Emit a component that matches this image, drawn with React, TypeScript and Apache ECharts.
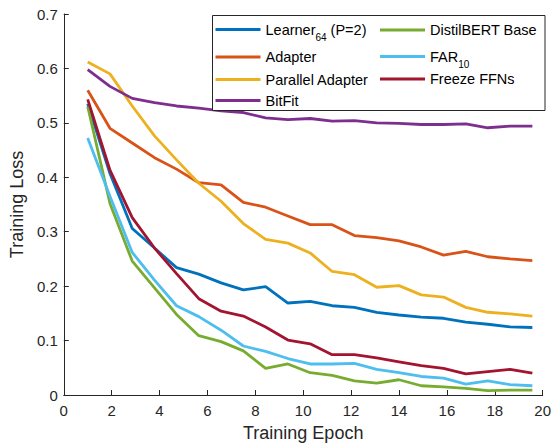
import React, { useEffect, useRef } from "react";
import * as echarts from "echarts";

const epochs = [1, 1.93, 2.86, 3.79, 4.71, 5.64, 6.57, 7.5, 8.43, 9.36, 10.29, 11.21, 12.14, 13.07, 14, 14.93, 15.86, 16.79, 17.71, 18.64, 19.57];

const learner = [0.535, 0.407, 0.306, 0.270, 0.234, 0.222, 0.206, 0.193, 0.199, 0.169, 0.172, 0.164, 0.161, 0.152, 0.147, 0.143, 0.141, 0.134, 0.130, 0.125, 0.124];
const adapter = [0.560, 0.490, 0.463, 0.436, 0.415, 0.390, 0.386, 0.354, 0.345, 0.329, 0.313, 0.313, 0.293, 0.289, 0.283, 0.272, 0.257, 0.264, 0.254, 0.250, 0.247];
const parallelAdapter = [0.612, 0.590, 0.531, 0.476, 0.432, 0.389, 0.356, 0.315, 0.286, 0.279, 0.261, 0.227, 0.221, 0.198, 0.201, 0.184, 0.180, 0.161, 0.152, 0.149, 0.145];
const bitfit = [0.598, 0.567, 0.545, 0.537, 0.531, 0.527, 0.522, 0.519, 0.509, 0.506, 0.508, 0.503, 0.504, 0.500, 0.499, 0.497, 0.497, 0.498, 0.491, 0.494, 0.494];
const distilbert = [0.530, 0.352, 0.246, 0.197, 0.148, 0.109, 0.098, 0.081, 0.049, 0.057, 0.041, 0.036, 0.026, 0.022, 0.028, 0.017, 0.015, 0.012, 0.008, 0.009, 0.009];
const far10 = [0.472, 0.365, 0.262, 0.211, 0.164, 0.144, 0.119, 0.090, 0.080, 0.067, 0.057, 0.057, 0.058, 0.047, 0.041, 0.034, 0.031, 0.020, 0.026, 0.019, 0.017];
const freezeFFNs = [0.543, 0.413, 0.326, 0.270, 0.223, 0.177, 0.154, 0.145, 0.125, 0.101, 0.094, 0.074, 0.074, 0.068, 0.061, 0.054, 0.049, 0.039, 0.043, 0.047, 0.040];

const seriesNames = ["Learner64 (P=2)", "Adapter", "Parallel Adapter", "BitFit", "DistilBERT Base", "FAR10", "Freeze FFNs"];
const seriesValues = [learner, adapter, parallelAdapter, bitfit, distilbert, far10, freezeFFNs];
const seriesColors = ["#0072BD", "#D95319", "#EDB120", "#7E2F8E", "#77AC30", "#4DBEEE", "#A2142F"];

const xTicks = { min: 0, max: 20, interval: 2 };
const yTicks = { min: 0, max: 0.7, interval: 0.1 };

// legend layout (positions only)
const legendLayout = [
  { left: 215.5, top: 20.5 },
  { left: 215.5, top: 48 },
  { left: 215.5, top: 70.5 },
  { left: 215.5, top: 91.5 },
  { left: 380, top: 21 },
  { left: 380, top: 47.5 },
  { left: 380, top: 70 },
];

const FONT = "'Liberation Sans', Arial, Helvetica, sans-serif";
const AXIS_COLOR = "#262626";

function legendFormatter(name: string) {
  if (name === "Learner64 (P=2)") return "Learner{sub|64} (P=2)";
  if (name === "FAR10") return "FAR{sub|10}";
  return name;
}

export default function App() {
  const ref = useRef<HTMLDivElement>(null);
  useEffect(() => {
    if (!ref.current) return;
    const chart = echarts.init(ref.current, null, { renderer: "svg" });
    const option: any = {
      animation: false,
      backgroundColor: "#ffffff",
      grid: { left: 58, right: 8.3, top: 14, bottom: 48.3, containLabel: false },
      xAxis: {
        type: "value",
        min: xTicks.min,
        max: xTicks.max,
        interval: xTicks.interval,
        name: "Training Epoch",
        nameLocation: "middle",
        nameGap: 29,
        nameTextStyle: { fontFamily: FONT, fontSize: 18, color: AXIS_COLOR },
        axisLine: { show: true, onZero: false, lineStyle: { color: AXIS_COLOR, width: 1 } },
        axisTick: { show: true, inside: true, length: 5, lineStyle: { color: AXIS_COLOR, width: 1 } },
        axisLabel: { fontFamily: FONT, fontSize: 15, color: AXIS_COLOR, margin: 8 },
        splitLine: { show: false },
      },
      yAxis: {
        type: "value",
        min: yTicks.min,
        max: yTicks.max,
        interval: yTicks.interval,
        name: "Training Loss",
        nameLocation: "middle",
        nameGap: 31,
        nameTextStyle: { fontFamily: FONT, fontSize: 18, color: AXIS_COLOR },
        axisLine: { show: true, onZero: false, lineStyle: { color: AXIS_COLOR, width: 1 } },
        axisTick: { show: true, inside: true, length: 5, lineStyle: { color: AXIS_COLOR, width: 1 } },
        axisLabel: { fontFamily: FONT, fontSize: 15, color: AXIS_COLOR, margin: 6 },
        splitLine: { show: false },
      },
      legend: seriesNames.map((name, i) => ({
        data: [name],
        orient: "vertical",
        left: legendLayout[i].left,
        top: legendLayout[i].top,
        padding: 0,
        itemGap: 0,
        icon: "rect",
        itemWidth: 45,
        itemHeight: 3,
        selectedMode: false,
        z: 5,
        formatter: legendFormatter,
        textStyle: {
          fontFamily: FONT,
          fontSize: 14.5,
          color: "#000000",
          lineHeight: 18,
          rich: {
            sub: { fontFamily: FONT, fontSize: 10, color: "#000000", lineHeight: 18, height: 2, verticalAlign: "bottom" },
          },
        },
      })),
      graphic: [
        {
          type: "rect",
          z: 3,
          shape: { x: 212.5, y: 15.5, width: 332.5, height: 95 },
          style: { fill: "#ffffff", stroke: AXIS_COLOR, lineWidth: 1 },
        },
      ],
      series: seriesNames.map((name, i) => ({
        type: "line",
        name,
        data: epochs.map((x, j) => [x, seriesValues[i][j]]),
        symbol: "none",
        color: seriesColors[i],
        lineStyle: { width: 2.8, color: seriesColors[i] },
        z: 2,
      })),
    };
    chart.setOption(option);
    return () => chart.dispose();
  }, []);
  return <div ref={ref} style={{ position: "fixed", left: 0, top: 0, width: 554, height: 447 }} />;
}
